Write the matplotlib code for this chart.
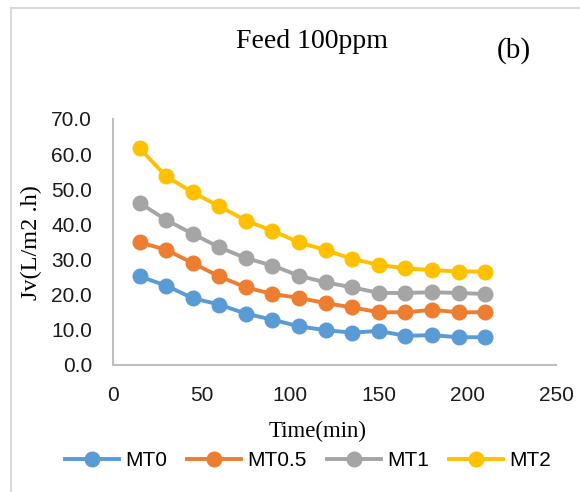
import matplotlib
matplotlib.use("Agg")
import matplotlib.pyplot as plt
from matplotlib.patches import Rectangle

# flux data
time_min = [15, 30, 45, 60, 75, 90, 105, 120, 135, 150, 165, 180, 195, 210]
mt0 = [25.2, 22.6, 19.0, 17.2, 14.6, 12.9, 11.0, 9.9, 9.2, 9.7, 8.3, 8.5, 7.9, 7.9]
mt05 = [34.9, 32.8, 29.0, 25.2, 22.1, 20.2, 19.1, 17.6, 16.4, 15.0, 15.0, 15.7, 15.0, 15.0]
mt1 = [46.1, 41.3, 37.3, 33.5, 30.4, 28.3, 25.4, 23.5, 22.1, 20.5, 20.5, 20.7, 20.5, 20.2]
mt2 = [61.7, 53.7, 49.1, 45.2, 41.1, 38.2, 34.9, 32.7, 30.2, 28.5, 27.5, 27.0, 26.6, 26.6]

series_names = ["MT0", "MT0.5", "MT1", "MT2"]
COLORS = ["#5B9BD5", "#ED7D31", "#A5A5A5", "#FFC000"]

SERIF = ["Liberation Serif", "DejaVu Serif"]
SANS = ["Liberation Sans", "DejaVu Sans"]

W, H = 580, 492
fig = plt.figure(figsize=(W / 100, H / 100), dpi=100)
ax = fig.add_axes([113 / W, 1 - 365 / H, 443 / W, 246 / H])

# chart-area border (runs off the right and bottom of the image)
fig.patches.append(Rectangle((11 / W, -0.1), 1.2, 1 - 8 / H + 0.1,
                             transform=fig.transFigure, fill=False,
                             edgecolor="#D9D9D9", linewidth=1.5))

for ys, name, c in zip([mt0, mt05, mt1, mt2], series_names, COLORS):
    ax.plot(time_min, ys, color=c, linewidth=2.8, marker="o",
            markersize=10.5, label=name)

ax.set_xlim(0, 250)
ax.set_ylim(0, 70)
ax.set_xticks(range(0, 251, 50))
ax.set_yticks(range(0, 71, 10))
ax.set_yticklabels([f"{v:.1f}" for v in range(0, 71, 10)])
ax.tick_params(length=0, labelsize=15, pad=15, labelcolor="#1a1a1a")
for lab in ax.get_xticklabels() + ax.get_yticklabels():
    lab.set_family(SANS)

for s in ["top", "right"]:
    ax.spines[s].set_visible(False)
for s in ["left", "bottom"]:
    ax.spines[s].set_color("#BFBFBF")
    ax.spines[s].set_linewidth(1.5)

fig.text(318 / W, 1 - 431 / H, "Time(min)", family=SERIF, fontsize=16.5,
         ha="center", va="center")
fig.text(31 / W, 1 - 243 / H, "Jv(L/m2 .h)", family=SERIF, fontsize=17.5,
         rotation=90, ha="center", va="center")

fig.text(312 / W, 1 - 42 / H, "Feed 100ppm", family=SERIF, fontsize=20,
         ha="center", va="center")
fig.text(514 / W, 1 - 51 / H, "(b)", family=SERIF, fontsize=21,
         ha="center", va="center")

fig.legend(loc="center", bbox_to_anchor=(308 / W, 1 - 461 / H), ncol=4,
           frameon=False, prop={"family": SANS, "size": 15},
           handlelength=2.6, handletextpad=0.3, columnspacing=0.95,
           borderaxespad=0, borderpad=0)

fig.savefig("out.png", dpi=100)
